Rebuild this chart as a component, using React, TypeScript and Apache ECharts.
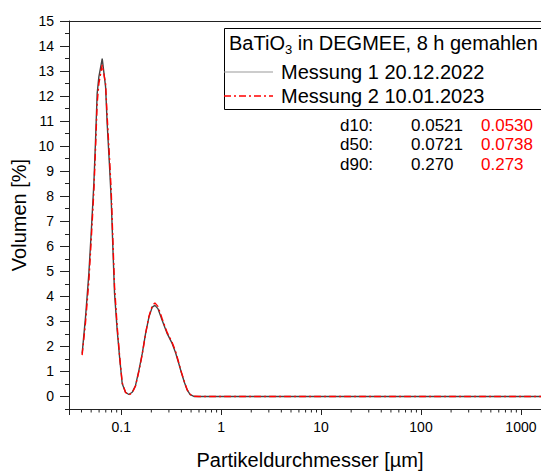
import React, { useEffect, useRef } from "react";
import * as echarts from "echarts";

// Particle diameters [µm]
const diameters = [
  0.0406, 0.0439, 0.0474, 0.05, 0.0532, 0.0553, 0.0574, 0.0597, 0.0645, 0.0697,
  0.0723, 0.0764, 0.0794, 0.0824, 0.0857, 0.0911, 0.0969, 0.1023, 0.1104, 0.1192,
  0.1288, 0.139, 0.1502, 0.1622, 0.1751, 0.1892, 0.2043, 0.2172, 0.2328, 0.2572,
  0.2885, 0.324, 0.3498, 0.3777, 0.4, 0.43, 0.458, 0.49, 0.534, 0.6,
  0.8, 1, 2, 5, 10, 20, 50, 100, 200, 500, 1000, 2000,
];
// Messung 1 (20.12.2022) volume [%]
const messung1 = [
  1.71, 3.17, 4.91, 6.51, 8.51, 10.24, 12.1, 12.77, 13.5, 12.37,
  10.9, 9.17, 7.84, 5.97, 4.11, 2.64, 1.44, 0.51, 0.17, 0.08,
  0.17, 0.44, 1.04, 1.71, 2.51, 3.17, 3.57, 3.64, 3.51, 3.04,
  2.51, 2.11, 1.75, 1.3, 0.95, 0.55, 0.25, 0.07, 0.0, 0.0,
  0, 0, 0, 0, 0, 0, 0, 0, 0, 0, 0, 0,
];
// Messung 2 (10.01.2023) volume [%]
const messung2 = [
  1.65, 2.95, 4.6, 6.2, 8.2, 9.9, 11.7, 12.5, 13.25, 12.5,
  11.2, 9.5, 8.2, 6.3, 4.4, 2.8, 1.5, 0.55, 0.16, 0.06,
  0.15, 0.42, 1.0, 1.68, 2.5, 3.2, 3.62, 3.74, 3.6, 3.1,
  2.55, 2.15, 1.8, 1.33, 0.97, 0.57, 0.26, 0.08, 0.01, 0.0,
  0, 0, 0, 0, 0, 0, 0, 0, 0, 0, 0, 0,
];

const seriesNames = ["Messung 1 20.12.2022", "Messung 2 10.01.2023"];
const legendTitle = "BaTiO{sub|3} in DEGMEE, 8 h gemahlen";
const dLabels = ["d10:", "d50:", "d90:"];
const dMessung1 = ["0.0521", "0.0721", "0.270"];
const dMessung2 = ["0.0530", "0.0738", "0.273"];

const xMinorTicks = [
  0.04, 0.05, 0.06, 0.07, 0.08, 0.09,
  0.2, 0.3, 0.4, 0.5, 0.6, 0.7, 0.8, 0.9,
  2, 3, 4, 5, 6, 7, 8, 9,
  20, 30, 40, 50, 60, 70, 80, 90,
  200, 300, 400, 500, 600, 700, 800, 900,
];

const X_MIN = 0.03;
const X_MAX = 2000;
const Y_MIN = -0.5;
const Y_MAX = 15;
const FONT = "Liberation Sans";
const AXIS = "#222";

export default function App() {
  const ref = useRef<HTMLDivElement>(null);
  useEffect(() => {
    if (!ref.current) return;
    document.body.style.overflow = "hidden";
    const chart = echarts.init(ref.current, null, { renderer: "svg" });
    const d1 = diameters.map((d, i) => [d, messung1[i]]);
    const d2 = diameters.map((d, i) => [d, messung2[i]]);

    const legendRowY = [72, 96];
    const dRowY = [125, 144.5, 164];

    const graphic: any[] = [
      {
        type: "rect",
        z: 100,
        shape: { x: 224.5, y: 28.5, width: 340, height: 81 },
        style: { fill: "#fff", stroke: "#000", lineWidth: 1 },
      },
      {
        type: "text",
        z: 101,
        x: 229,
        y: 43,
        style: {
          text: legendTitle,
          fontSize: 20,
          fontFamily: FONT,
          fill: "#000",
          verticalAlign: "middle",
          rich: {
            sub: {
              fontSize: 13,
              fontFamily: FONT,
              fill: "#000",
              verticalAlign: "bottom",
              padding: [13, 0, 0, 0],
            },
          },
        },
      },
      {
        type: "line",
        z: 101,
        shape: { x1: 224, y1: legendRowY[0], x2: 273, y2: legendRowY[0] },
        style: { stroke: "#999", lineWidth: 1.2 },
      },
      {
        type: "line",
        z: 101,
        shape: { x1: 224, y1: legendRowY[1], x2: 273, y2: legendRowY[1] },
        style: { stroke: "#ff0000", lineWidth: 1.3, lineDash: [7, 3, 2, 3] },
      },
    ];
    seriesNames.forEach((n, i) => {
      graphic.push({
        type: "text",
        z: 101,
        x: 281,
        y: legendRowY[i],
        style: { text: n, fontSize: 20, fontFamily: FONT, fill: "#000", verticalAlign: "middle" },
      });
    });
    const dStyle = { fontSize: 17, fontFamily: FONT, verticalAlign: "middle" };
    dLabels.forEach((l, i) => {
      graphic.push({ type: "text", x: 340, y: dRowY[i], style: { ...dStyle, text: l, fill: "#000" } });
      graphic.push({ type: "text", x: 411, y: dRowY[i], style: { ...dStyle, text: dMessung1[i], fill: "#000" } });
      graphic.push({ type: "text", x: 481, y: dRowY[i], style: { ...dStyle, text: dMessung2[i], fill: "#ff0000" } });
    });

    const isDecade = (v: number) => Math.abs(Math.log10(v) - Math.round(Math.log10(v))) < 1e-6;

    chart.setOption({
      animation: false,
      backgroundColor: "#fff",
      textStyle: { fontFamily: FONT },
      grid: [
        { left: 69, right: 0, top: 21, bottom: 62, outerBoundsMode: "none", containLabel: false },
        { left: 69, right: 0, top: 21, bottom: 74.52, outerBoundsMode: "none", containLabel: false },
      ],
      xAxis: [
        {
          type: "log",
          gridIndex: 0,
          position: "bottom",
          min: X_MIN,
          max: X_MAX,
          logBase: 10,
          name: "Partikeldurchmesser [µm]",
          nameLocation: "middle",
          nameGap: 41,
          nameTextStyle: { fontSize: 20, color: "#000", fontFamily: FONT },
          axisLine: { show: true, onZero: false, lineStyle: { color: AXIS, width: 1 } },
          axisTick: { show: true, length: 6, inside: false, lineStyle: { color: AXIS, width: 1 } },
          minorTick: { show: false },
          splitLine: { show: false },
          axisLabel: {
            fontSize: 14,
            color: "#000",
            margin: 11,
            fontFamily: FONT,
            showMinLabel: true,
            showMaxLabel: true,
            formatter: (v: number) => (isDecade(v) ? String(Number(v.toPrecision(6))) : ""),
          },
        },
        {
          type: "log",
          gridIndex: 0,
          position: "top",
          min: X_MIN,
          max: X_MAX,
          axisLine: { show: true, onZero: false, lineStyle: { color: AXIS, width: 1 } },
          axisTick: { show: false },
          axisLabel: { show: false },
          splitLine: { show: false },
        },
        { type: "value", gridIndex: 1, show: false, min: 0, max: 1 },
      ],
      yAxis: [
        {
          type: "value",
          gridIndex: 0,
          min: Y_MIN,
          max: Y_MAX,
          interval: 0.5,
          name: "Volumen [%]",
          nameLocation: "middle",
          nameGap: 40,
          nameRotate: 90,
          nameTextStyle: { fontSize: 20, color: "#000", fontFamily: FONT },
          axisLine: { show: true, onZero: false, lineStyle: { color: AXIS, width: 1 } },
          axisTick: { show: true, length: 4, lineStyle: { color: AXIS, width: 1 } },
          axisLabel: { show: false },
          splitLine: { show: false },
        },
        {
          type: "value",
          gridIndex: 1,
          min: 0,
          max: Y_MAX,
          interval: 1,
          axisLine: { show: false, onZero: false },
          axisTick: { show: true, length: 9, lineStyle: { color: AXIS, width: 1 } },
          axisLabel: { fontSize: 14, color: "#000", margin: 15, fontFamily: FONT },
          splitLine: { show: false },
        },
      ],
      series: [
        {
          name: seriesNames[0],
          type: "line",
          xAxisIndex: 0,
          yAxisIndex: 0,
          data: d1,
          showSymbol: false,
          symbol: "none",
          lineStyle: { color: "#444", width: 1.4 },
          z: 3,
        },
        {
          name: seriesNames[1],
          type: "line",
          xAxisIndex: 0,
          yAxisIndex: 0,
          data: d2,
          showSymbol: false,
          symbol: "none",
          lineStyle: { color: "#ff0000", width: 1.4, type: [7, 3, 2, 3] },
          z: 4,
        },
        {
          type: "custom",
          xAxisIndex: 0,
          yAxisIndex: 0,
          silent: true,
          clip: false,
          data: xMinorTicks.map((v) => [v, Y_MIN]),
          renderItem: (params: any, api: any) => {
            const p = api.coord([api.value(0), api.value(1)]);
            return {
              type: "line",
              shape: { x1: p[0], y1: p[1], x2: p[0], y2: p[1] + 3.5 },
              style: { stroke: AXIS, lineWidth: 1 },
            };
          },
        },
      ],
      graphic,
    });
    return () => chart.dispose();
  }, []);
  return (
    <div
      ref={ref}
      style={{ position: "fixed", left: 0, top: 0, width: 551, height: 471 }}
    />
  );
}
